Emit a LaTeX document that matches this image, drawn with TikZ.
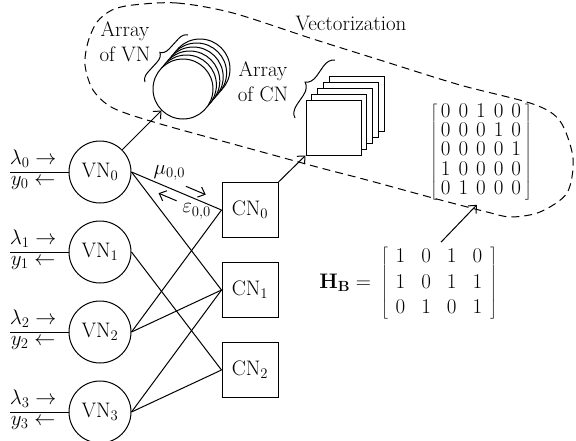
\RequirePackage{fix-cm}
\documentclass[tikz,border=0pt]{standalone}
\usepackage{tikz}
\usetikzlibrary{arrows.meta,positioning,calc,decorations.pathreplacing}

\begin{document}
\begin{tikzpicture}[x=1pt,y=-1pt,node distance=17pt,>={Straight Barb[length=6pt,width=11pt]},
line width=1pt,font=\fontsize{21}{25}\selectfont,
vnbox/.style={draw,circle,minimum size=62pt,inner sep=0pt,fill=white},
cnbox/.style={draw,minimum width=56pt,minimum height=55pt,inner sep=0pt,fill=white},
vnstack/.style={draw,circle,minimum size=60pt,inner sep=0pt,fill=white},
cnstack/.style={draw,minimum size=55pt,inner sep=0pt,fill=white},
arraybrace/.style={decorate,decoration={brace,amplitude=9pt}},
msglabel/.style={inner sep=0pt}]
\useasboundingbox (0,0) rectangle (576,440);

% vectorization region
\draw[dash pattern=on 8pt off 5pt] plot[smooth cycle] coordinates {(133,5) (177,3) (233,13) (313,39) (383,61) (460,85) (533,104) (560,121) (573,158) (567,193) (540,212) (511,217) (487,212) (433,198) (367,180) (317,167) (233,144) (157,123) (113,108) (93,90) (85,65) (88,42) (97,22) (112,10)};
\node (veclabel) at (351,23) {Vectorization};

% Tanner graph
\node[vnbox] (vn0) at (100,172) {VN$_0$};
\node[vnbox,below=of vn0] (vn1) {VN$_1$};
\node[vnbox,below=of vn1] (vn2) {VN$_2$};
\node[vnbox,below=of vn2] (vn3) {VN$_3$};
\node[cnbox] (cn0) at (250,210) {CN$_0$};
\node[cnbox,below=24pt of cn0] (cn1) {CN$_1$};
\node[cnbox,below=24pt of cn1] (cn2) {CN$_2$};

\foreach \i in {0,...,3} {
  \coordinate (in\i) at ($(vn\i.west)+(-59,0)$);
  \draw (in\i) -- node[pos=0.4,above,inner sep=4pt] {$\lambda_\i\rightarrow$}
    node[pos=0.4,below,inner sep=4pt] {$y_\i\leftarrow$} (vn\i.west);
}
\foreach \v/\c in {0/0,0/1,1/2,2/0,2/1,3/1,3/2}
  \draw (vn\v.east) -- (cn\c.west);

% messages on the first edge
\draw[->] ($(vn0.east)!0.57!(cn0.west)!8pt!90:(cn0.west)$) -- ($(vn0.east)!0.79!(cn0.west)!8pt!90:(cn0.west)$);
\draw[->] ($(vn0.east)!0.54!(cn0.west)!9pt!-90:(cn0.west)$) -- ($(vn0.east)!0.34!(cn0.west)!9pt!-90:(cn0.west)$);
\node[msglabel] (mulabel) at ($(vn0.east)!0.36!(cn0.west)!14pt!90:(cn0.west)$) {$\mu_{0,0}$};
\node[msglabel] (epslabel) at ($(vn0.east)!0.77!(cn0.west)!11pt!-90:(cn0.west)$) {$\varepsilon_{0,0}$};

% arrays of nodes
\coordinate (vnfront) at (183,89);
\foreach \k in {5,4,...,1}
  \node[vnstack] at ($(vnfront)+(3.4*\k,-4*\k)$) {};
\node[vnstack] (vnarr) at (vnfront) {};
\coordinate (cnfront) at (333.5,127.5);
\foreach \k in {4,3,2,1}
  \node[cnstack] at ($(cnfront)+(5.8*\k,-6*\k)$) {};
\node[cnstack] (cnarr) at (cnfront) {};

\draw[arraybrace] (145,82) -- (188,35);
\draw[arraybrace,decoration={amplitude=12pt}] (295,118) -- (335,60);
\node[align=center] (vnlabel) at (125,42) {Array\\of VN};
\node[align=center] (cnlabel) at (263,82) {Array\\of CN};

\draw[->] (vn0) -- (vnarr);
\draw[->] (cn0.north east) -- (cnarr.south west);

% matrices
\node[inner sep=0pt] (vecmat) at (481,152) {\arraycolsep=4pt\def\arraystretch{0.75}%
$\left[\begin{array}{ccccc}0&0&1&0&0\\0&0&0&1&0\\0&0&0&0&1\\1&0&0&0&0\\0&1&0&0&0\end{array}\right]$};
\node[inner sep=0pt] (hbmat) at (439,283) {\arraycolsep=8pt\def\arraystretch{1.02}%
$\left[\begin{array}{cccc}1&0&1&0\\1&0&1&1\\0&1&0&1\end{array}\right]$};
\node[left=9pt of hbmat,inner sep=0pt] (hblabel) {$\mathbf{H}_{\mathbf{B}} =$};
\draw[->,shorten >=6pt,shorten <=3pt] (hbmat.north) -- (vecmat.south);
\end{tikzpicture}
\end{document}
